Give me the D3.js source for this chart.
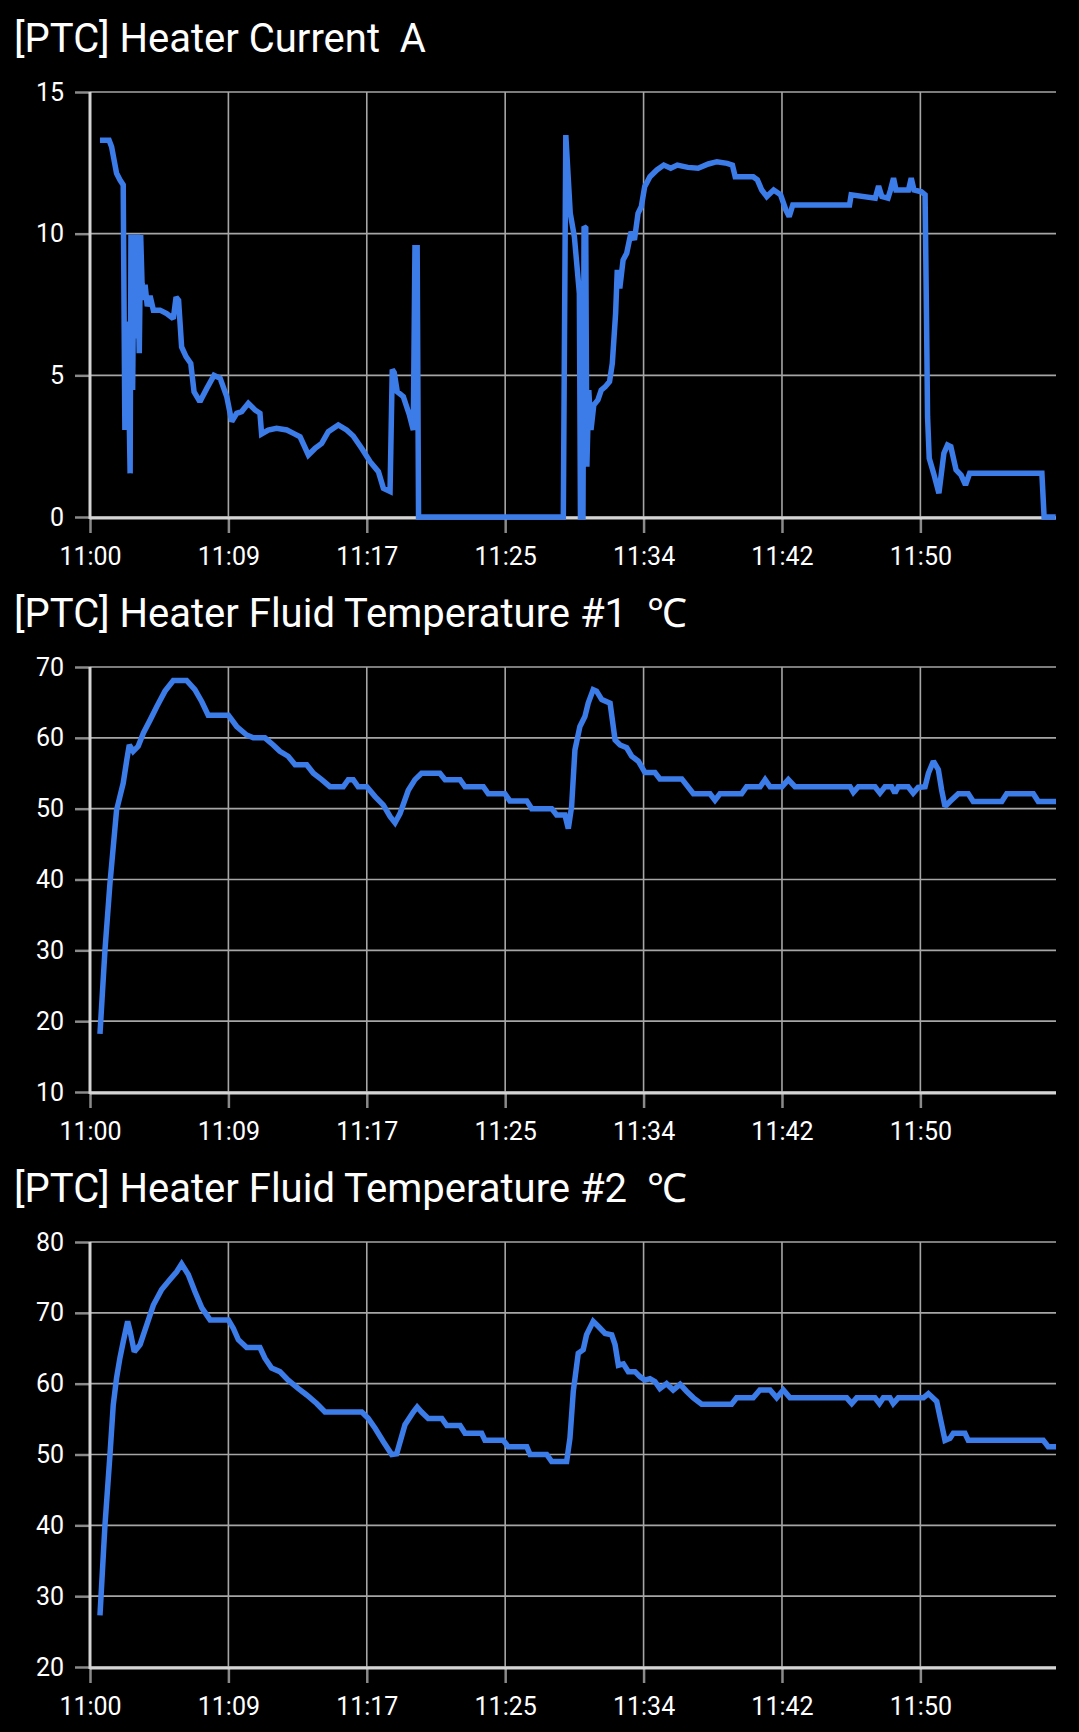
<!DOCTYPE html>
<html>
<head>
<meta charset="utf-8">
<script src="https://cdn.jsdelivr.net/npm/d3@7"></script>
<style>
  html, body { margin: 0; padding: 0; background: #000; }
  svg { display: block; }
  text { font-family: Roboto, "Noto Sans", sans-serif; }
  .title { white-space: pre; }
</style>
</head>
<body>
<svg id="chart" width="1079" height="1732"></svg>
<script>
// ---------------- DATA ----------------
// Time values are seconds after 11:00:00.
const titles = [
  "[PTC] Heater Current  A",
  "[PTC] Heater Fluid Temperature #1  \u2103",
  "[PTC] Heater Fluid Temperature #2  \u2103"
];
const xTickSeconds = [40, 540, 1040, 1540, 2040, 2540, 3040]; // 11:00 11:09 11:17 11:25 11:34 11:42 11:50
const xDomainSeconds = [40, 3530];

const yTicksCurrent = [0, 5, 10, 15];
const yTicksTemp1 = [10, 20, 30, 40, 50, 60, 70];
const yTicksTemp2 = [20, 30, 40, 50, 60, 70, 80];

const currentSeries = [
  [76,13.3],[109,13.3],[118,13.07],[136,12.13],[148,11.9],[160,11.72],[166,3.07],[176,6.9],[185,1.54],
  [188,9.97],[194,4.48],[199,9.97],[206,6.3],[211,9.97],[218,5.78],[223,9.95],[228,8.25],[233,7.66],
  [239,8.2],[247,7.44],[257,7.8],[269,7.3],[293,7.3],[317,7.18],[341,7.0],[351,7.76],[360,7.65],
  [371,6.0],[387,5.66],[404,5.42],[416,4.42],[437,4.07],[462,4.54],[488,5.0],[510,4.9],[534,4.25],
  [552,3.37],[570,3.66],[588,3.72],[612,4.01],[636,3.78],[654,3.66],[660,2.93],[684,3.07],[714,3.13],
  [751,3.07],[775,2.95],[799,2.83],[829,2.19],[853,2.42],[877,2.6],[901,3.01],[937,3.25],[967,3.07],
  [991,2.86],[1022,2.42],[1052,1.95],[1082,1.6],[1100,1.01],[1124,0.9],[1132,5.2],[1139,5.1],
  [1150,4.42],[1172,4.25],[1194,3.6],[1208,3.07],[1214,9.5],[1222,9.5],[1227,0],[1750,0],
  [1759,13.48],[1775,10.72],[1790,9.89],[1808,7.9],[1812,0],[1821,0],[1825,10.25],[1831,10.2],
  [1835,1.78],[1842,4.48],[1850,3.07],[1860,3.95],[1875,4.13],[1887,4.48],[1902,4.6],[1917,4.78],
  [1927,5.42],[1939,7.19],[1945,8.72],[1954,8.07],[1966,9.07],[1979,9.31],[1995,10.07],[2007,9.78],
  [2020,10.72],[2032,10.96],[2044,11.66],[2063,12.01],[2088,12.25],[2113,12.42],[2138,12.31],
  [2162,12.42],[2200,12.34],[2237,12.31],[2274,12.46],[2305,12.54],[2342,12.48],[2361,12.42],
  [2371,12.01],[2436,12.01],[2451,11.9],[2467,11.54],[2485,11.31],[2510,11.54],[2535,11.37],
  [2554,10.84],[2566,10.6],[2579,11.01],[2784,11.01],[2790,11.37],[2877,11.25],[2889,11.68],
  [2901,11.31],[2923,11.25],[2932,11.54],[2943,11.96],[2952,11.54],[2997,11.54],[3007,11.96],
  [3017,11.54],[3044,11.48],[3057,11.37],[3062,7.19],[3066,3.54],[3072,2.07],[3088,1.54],
  [3107,0.84],[3125,2.25],[3138,2.54],[3150,2.48],[3169,1.66],[3187,1.48],[3203,1.13],[3218,1.54],
  [3479,1.54],[3487,0],[3529,0]
];

const temp1Series = [
  [76,18.2],[94,30],[112,39.4],[124,44.6],[136,49.8],[148,51.7],[160,53.6],[173,56.9],[182,59.0],
  [196,58.1],[214,58.8],[233,60.7],[257,62.5],[281,64.4],[311,66.6],[341,68.1],[389,68.1],[419,66.8],
  [444,65.1],[467,63.2],[540,63.2],[570,61.6],[606,60.4],[630,60.0],[672,60.0],[702,59.0],[726,58.1],
  [756,57.4],[781,56.2],[823,56.2],[847,55.0],[877,54.1],[907,53.1],[955,53.1],[973,54.1],[991,54.1],
  [1009,53.1],[1040,53.1],[1070,51.7],[1100,50.5],[1124,48.9],[1142,48.0],[1160,49.3],[1190,52.6],
  [1214,54.1],[1238,55.0],[1304,55.0],[1323,54.1],[1377,54.1],[1395,53.1],[1461,53.1],[1479,52.1],
  [1539,52.1],[1557,51.1],[1618,51.1],[1636,50.0],[1708,50.0],[1726,49.1],[1756,49.1],[1768,47.2],
  [1780,50.3],[1792,58.3],[1810,61.6],[1828,63.0],[1840,64.9],[1858,66.8],[1870,66.6],[1889,65.4],
  [1919,64.9],[1937,59.7],[1955,59.0],[1979,58.6],[1997,57.4],[2021,56.7],[2045,55.1],[2081,55.1],
  [2099,54.2],[2178,54.2],[2220,52.1],[2280,52.1],[2298,51.2],[2316,52.1],[2394,52.1],[2412,53.1],
  [2461,53.1],[2479,54.1],[2497,53.1],[2540,53.1],[2563,54.1],[2587,53.1],[2786,53.1],[2798,52.3],
  [2816,53.1],[2876,53.1],[2894,52.2],[2912,53.1],[2936,53.1],[2948,52.2],[2960,53.1],[2996,53.1],
  [3014,52.2],[3032,53.0],[3057,53.1],[3069,55.0],[3087,56.7],[3105,55.5],[3117,52.6],[3129,50.3],
  [3147,51.0],[3177,52.1],[3213,52.1],[3231,51.0],[3334,51.0],[3352,52.1],[3448,52.1],[3466,51.0],
  [3530,51.0]
];

const temp2Series = [
  [76,27.3],[94,40],[112,49.9],[124,57],[136,60.8],[148,63.6],[160,65.9],[176,68.8],[185,67.4],
  [200,64.5],[221,65.5],[245,68.3],[269,71.1],[299,73.3],[329,74.7],[353,75.8],[371,76.9],[395,75.4],
  [419,73.0],[444,70.7],[474,69.0],[540,69.0],[558,67.8],[576,66.2],[606,65.1],[654,65.1],[672,63.6],
  [696,62.2],[726,61.7],[756,60.5],[793,59.3],[823,58.4],[859,57.2],[889,56.0],[1022,56.0],[1045,55.1],
  [1070,53.7],[1100,51.8],[1130,50.0],[1148,50.1],[1178,54.2],[1208,56.0],[1222,56.7],[1238,56.0],
  [1262,55.1],[1311,55.1],[1329,54.1],[1377,54.1],[1395,53.0],[1455,53.0],[1467,52.0],[1533,52.0],
  [1551,51.1],[1618,51.1],[1630,50.0],[1690,50.0],[1708,49.0],[1762,49.0],[1774,52.3],[1786,58.9],
  [1804,64.3],[1822,64.8],[1834,66.9],[1858,68.8],[1876,68.1],[1901,67.1],[1925,66.9],[1937,65.5],
  [1949,62.6],[1967,62.8],[1985,61.7],[2009,61.7],[2027,61.0],[2045,60.5],[2063,60.7],[2081,60.3],
  [2099,59.3],[2123,60.0],[2147,59.1],[2172,59.9],[2196,58.9],[2220,58.0],[2250,57.1],[2358,57.1],
  [2376,58.0],[2436,58.0],[2460,59.1],[2497,59.1],[2521,58.0],[2545,59.1],[2569,58.0],[2774,58.0],
  [2792,57.2],[2810,58.0],[2876,58.0],[2892,57.2],[2906,58.0],[2930,58.0],[2942,57.2],[2960,58.0],
  [3051,58.0],[3069,58.6],[3099,57.5],[3117,54.2],[3129,52.0],[3147,52.3],[3159,53.0],[3201,53.0],
  [3213,52.0],[3484,52.0],[3502,51.1],[3530,51.1]
];

// ---------------- DRAWING ----------------
const svg = d3.select("#chart");
const base = new Date(2020, 0, 1, 11, 0, 0).getTime();
const toDate = s => new Date(base + s * 1000);
const fmt = d3.timeFormat("%H:%M");

const panels = [
  { title: titles[0], data: currentSeries, yTicks: yTicksCurrent, yDomain: [0, 15] },
  { title: titles[1], data: temp1Series, yTicks: yTicksTemp1, yDomain: [10, 70] },
  { title: titles[2], data: temp2Series, yTicks: yTicksTemp2, yDomain: [20, 80] }
];

const panelH = 575;
const left = 90, right = 1056, top0 = 92, bottom0 = 517;

const x = d3.scaleTime()
  .domain(xDomainSeconds.map(toDate))
  .range([left, right]);
const xTicks = xTickSeconds.map(toDate);

panels.forEach((p, i) => {
  const off = i * panelH;
  const g = svg.append("g").attr("transform", `translate(0,${off})`);

  g.append("text")
    .attr("class", "title")
    .attr("x", 14).attr("y", 52)
    .attr("fill", "#ffffff")
    .style("font-size", "40px")
    .text(p.title);

  const y = d3.scaleLinear().domain(p.yDomain).range([bottom0, top0]);

  // grid
  g.append("g").selectAll("line.h").data(p.yTicks).join("line")
    .attr("x1", left).attr("x2", right)
    .attr("y1", d => y(d)).attr("y2", d => y(d))
    .attr("stroke", "#a6a6a6").attr("stroke-width", 1.6);
  g.append("g").selectAll("line.v").data(xTicks).join("line")
    .attr("x1", d => x(d)).attr("x2", d => x(d))
    .attr("y1", top0).attr("y2", bottom0)
    .attr("stroke", "#a6a6a6").attr("stroke-width", 1.6);

  // axes
  const yAxis = d3.axisLeft(y).tickValues(p.yTicks).tickSize(15).tickPadding(11).tickFormat(d3.format("d"));
  const ya = g.append("g").attr("transform", `translate(${left},0)`).call(yAxis);
  const xAxis = d3.axisBottom(x).tickValues(xTicks).tickSize(15).tickPadding(14).tickFormat(fmt);
  const xa = g.append("g").attr("transform", `translate(0,${bottom0 + 1})`).call(xAxis);

  [ya, xa].forEach(a => {
    a.select(".domain").remove();
    a.selectAll(".tick line").attr("stroke", "#8a8a8a").attr("stroke-width", 2.5);
    a.selectAll(".tick text").attr("fill", "#ffffff").style("font-size", "25px")
      .style("font-family", "Roboto, 'Noto Sans', sans-serif");
  });

  // axis lines
  g.append("line").attr("x1", left).attr("x2", left).attr("y1", top0).attr("y2", bottom0 + 2)
    .attr("stroke", "#d4d4d4").attr("stroke-width", 3);
  g.append("line").attr("x1", left).attr("x2", right).attr("y1", bottom0 + 1).attr("y2", bottom0 + 1)
    .attr("stroke", "#d4d4d4").attr("stroke-width", 3);

  // series
  const line = d3.line()
    .x(d => x(toDate(d[0])))
    .y(d => y(d[1]));
  g.append("path")
    .datum(p.data)
    .attr("d", line)
    .attr("fill", "none")
    .attr("stroke", "#3b7ce9")
    .attr("stroke-width", 5.5)
    .attr("stroke-linejoin", "miter")
    .attr("stroke-miterlimit", 2);
});
</script>
</body>
</html>
